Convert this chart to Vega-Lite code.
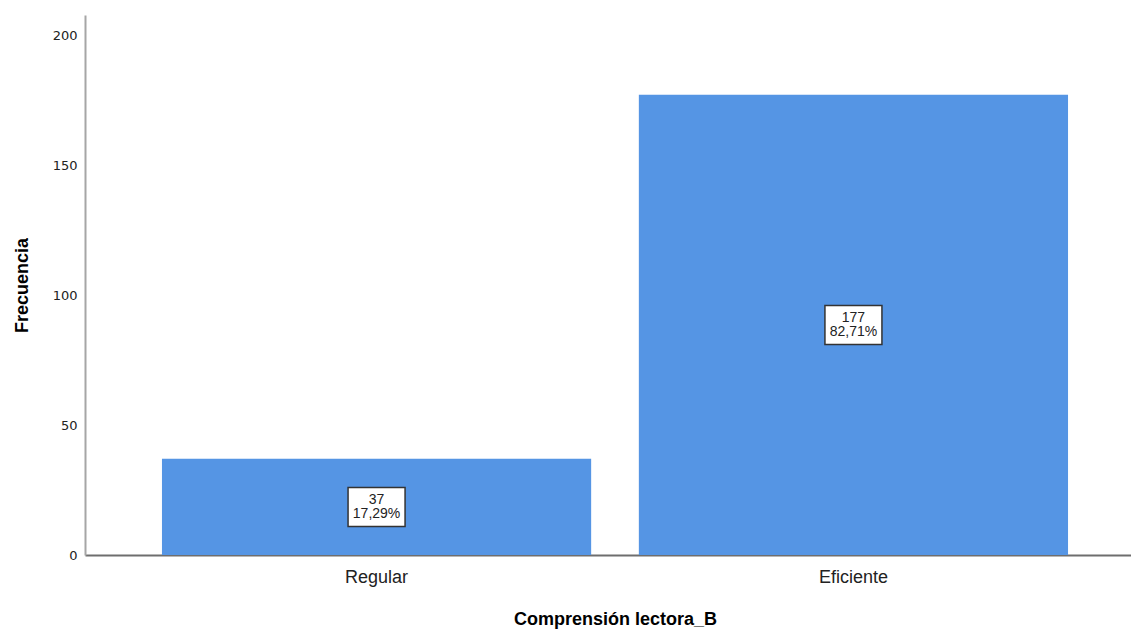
{
  "$schema": "https://vega.github.io/schema/vega-lite/v6.json",
  "autosize": "none",
  "width": 1046,
  "height": 540,
  "padding": {"left": 85, "top": 15, "right": 0, "bottom": 75},
  "background": "white",
  "config": {
    "view": {"stroke": null},
    "font": "Liberation Sans"
  },
  "data": {
    "values": [
      {"categoria": "Regular", "frecuencia": 37, "etiqueta": "37\n17,29%"},
      {"categoria": "Eficiente", "frecuencia": 177, "etiqueta": "177\n82,71%"}
    ]
  },
  "encoding": {
    "x": {
      "field": "categoria",
      "type": "nominal",
      "sort": ["Regular", "Eficiente"],
      "scale": {"range": [0, 1060], "paddingInner": 0.1, "paddingOuter": 0.1614},
      "axis": {
        "title": "Comprensión lectora_B",
        "titleFont": "Liberation Sans",
        "titleFontSize": 18,
        "titleFontWeight": "bold",
        "titleColor": "#000000",
        "titlePadding": 24,
        "labelAngle": 0,
        "labelFont": "Liberation Sans",
        "labelFontSize": 18,
        "labelColor": "#222222",
        "labelPadding": 13,
        "ticks": false,
        "domainColor": "#6e6e6e",
        "domainWidth": 2,
        "grid": false
      }
    }
  },
  "layer": [
    {
      "mark": {"type": "bar", "color": "#5595e4"},
      "encoding": {
        "y": {
          "field": "frecuencia",
          "type": "quantitative",
          "scale": {"domain": [0, 207.7], "nice": false, "zero": true},
          "axis": {
            "title": "Frecuencia",
            "titleFont": "Liberation Sans",
            "titleFontSize": 18,
            "titleFontWeight": "bold",
            "titleColor": "#000000",
            "titlePadding": 21,
            "values": [0, 50, 100, 150, 200],
            "labelFont": "DejaVu Sans",
            "labelFontSize": 13,
            "labelColor": "#222222",
            "labelPadding": 8,
            "ticks": false,
            "grid": false,
            "domainColor": "#a6a6a6",
            "domainWidth": 2
          }
        }
      }
    },
    {
      "transform": [{"calculate": "datum.frecuencia / 2", "as": "medio"}],
      "mark": {
        "type": "point",
        "shape": "M-1,-0.684H1V0.684H-1Z",
        "size": 3249,
        "filled": true,
        "fill": "white",
        "stroke": "#333333",
        "strokeWidth": 1.5,
        "opacity": 1
      },
      "encoding": {
        "y": {"field": "medio", "type": "quantitative"}
      }
    },
    {
      "transform": [{"calculate": "datum.frecuencia / 2", "as": "medio"}],
      "mark": {
        "type": "text",
        "lineBreak": "\n",
        "fontSize": 14,
        "font": "Liberation Sans",
        "color": "#222222",
        "baseline": "middle",
        "lineHeight": 14,
        "dy": -7
      },
      "encoding": {
        "y": {"field": "medio", "type": "quantitative"},
        "text": {"field": "etiqueta"}
      }
    }
  ]
}
